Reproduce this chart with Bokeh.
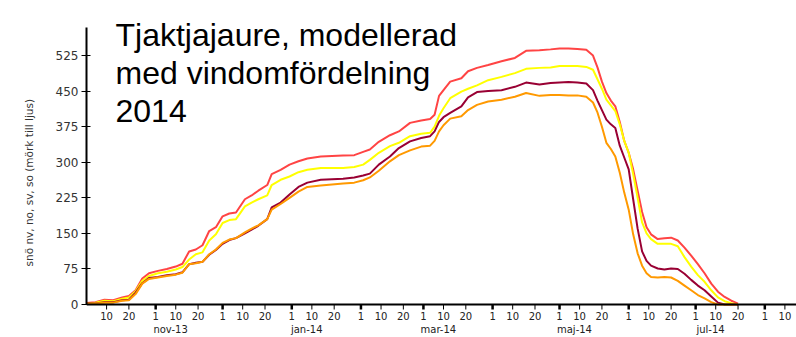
import pandas as pd
from bokeh.plotting import figure
from bokeh.models import Range1d, LinearAxis, FixedTicker, Span, Title
from bokeh.core.properties import value
from bokeh.embed import file_html
from bokeh.resources import INLINE

# Snow depth (mm) simulated for four wind-exposure aspects, season 2013/14.
# x is days since 1 Oct 2013.
season_start = pd.Timestamp("2013-10-01")

day = [0, 4, 8, 12, 16, 19, 22, 25, 28, 32, 36, 40, 43, 46, 49, 52, 55, 58,
       61, 64, 67, 71, 74, 77, 81, 83, 87, 91, 95, 99, 105, 110, 115, 120,
       124, 127, 131, 136, 140, 145, 150, 154, 156, 158, 160, 163, 168, 171,
       175, 180, 186, 192, 197, 203, 208, 212, 216, 220, 224, 227, 229, 231,
       233, 235, 237, 239, 241, 243, 245, 247, 249, 251, 253, 256, 259, 262,
       265, 268, 271, 274, 277, 280, 283, 286, 289, 292]

sno_no = [3, 5, 10, 9, 15, 18, 30, 55, 66, 71, 75, 80, 86, 112, 116, 125,
          155, 163, 186, 192, 194, 222, 230, 240, 252, 275, 284, 295, 302,
          308, 312, 313, 314, 315, 322, 327, 343, 357, 365, 383, 388, 391,
          400, 440, 452, 470, 477, 492, 499, 505, 513, 520, 535, 536, 538,
          540, 540, 539, 537, 525, 500, 470, 446, 430, 418, 385, 345, 320,
          285, 240, 195, 163, 148, 138, 140, 141, 135, 120, 103, 85, 66, 44,
          27, 16, 8, 2]

sno_so = [2, 4, 8, 7, 12, 15, 28, 50, 60, 66, 69, 74, 79, 95, 106, 110, 135,
          148, 172, 178, 180, 207, 215, 222, 230, 252, 263, 270, 279, 284,
          288, 288, 288, 290, 295, 305, 320, 334, 341, 355, 360, 362, 375,
          398, 414, 435, 449, 455, 462, 473, 480, 488, 497, 499, 500, 503,
          503, 503, 501, 495, 475, 455, 432, 420, 408, 380, 345, 320, 275,
          225, 173, 150, 138, 128, 128, 128, 123, 100, 80, 62, 48, 30, 15, 7,
          3, 0]

sno_nv = [3, 2, 5, 5, 9, 10, 25, 45, 56, 58, 62, 64, 68, 85, 88, 90, 105,
          115, 128, 136, 140, 150, 158, 166, 180, 205, 215, 232, 248, 257,
          263, 264, 265, 268, 272, 276, 295, 312, 330, 344, 351, 355, 365,
          385, 395, 404, 418, 437, 448, 450, 452, 459, 468, 464, 467, 468,
          469, 468, 466, 452, 430, 410, 390, 380, 372, 335, 310, 285, 222,
          160, 112, 92, 82, 76, 74, 76, 75, 65, 52, 40, 30, 17, 4, 0, 0, 0]

sno_sv = [2, 2, 4, 4, 8, 9, 22, 44, 54, 57, 60, 63, 67, 85, 87, 90, 106, 116,
          130, 137, 140, 152, 160, 167, 180, 200, 212, 225, 238, 248, 251,
          253, 255, 257, 262, 268, 282, 302, 315, 325, 333, 335, 345, 365,
          378, 392, 397, 410, 421, 428, 432, 438, 446, 440, 442, 442, 441,
          441, 438, 426, 405, 375, 341, 328, 312, 278, 236, 200, 148, 108, 82,
          66, 58, 57, 58, 57, 50, 40, 30, 20, 13, 5, 0, 0, 0, 0]

y_ticks = [0, 75, 150, 225, 300, 375, 450, 525]
month_names = ["nov-13", "jan-14", "mar-14", "maj-14", "jul-14"]
month_name_starts = ["2013-11-01", "2014-01-01", "2014-03-01", "2014-05-01",
                     "2014-07-01"]
title_lines = ["Tjaktjajaure, modellerad", "med vindomfördelning", "2014"]
y_title = "snö nv, no, sv, so  (mörk till ljus)"

# --- tick positions: 1st, 10th and 20th of every month --------------------
def days_since_start(ts):
    return int((pd.Timestamp(ts) - season_start).days)

tick_days, tick_labels, month_days, mid_days = [], [], [], []
for m in pd.date_range("2013-10-01", "2014-08-01", freq="MS"):
    for d in (1, 10, 20):
        t = days_since_start(m + pd.Timedelta(days=d - 1))
        if t > 0:
            tick_days.append(t)
            tick_labels.append(str(d))
            (month_days if d == 1 else mid_days).append(t)

# --- scale: units per pixel on y, frame dips 5 px below zero for ticks -----
units_per_px = 525 / 250.6
zero_px = 306                  # canvas row of the zero line
y_end = zero_px * units_per_px
y_start = -5 * units_per_px
x_end = 318.2

p = figure(width=796, height=337, output_backend="svg", toolbar_location=None,
           x_range=Range1d(0, x_end), y_range=Range1d(y_start, y_end),
           x_axis_type=None, min_border_left=86, min_border_right=0,
           min_border_top=0, min_border_bottom=26)
p.outline_line_color = None
p.ygrid.visible = False
p.background_fill_color = "white"

# --- series ---------------------------------------------------------------
series = [(sno_no, "#FF4444"), (sno_so, "#FFFF00"),
          (sno_nv, "#990033"), (sno_sv, "#FF9900")]
for vals, col in series:
    p.line(day, vals, line_color=col, line_width=2)

# --- x axis line and tick marks -------------------------------------------
p.add_layout(Span(location=0, dimension="width", line_color="black",
                  line_width=2))
tick_len = 6 * units_per_px
p.segment(x0=mid_days, y0=[0] * len(mid_days), x1=mid_days,
          y1=[-tick_len] * len(mid_days), line_color="black", line_width=1)
p.segment(x0=month_days, y0=[0] * len(month_days), x1=month_days,
          y1=[-tick_len] * len(month_days), line_color="black", line_width=2.5)

# --- y axis ---------------------------------------------------------------
ya = p.yaxis[0]
ya.ticker = FixedTicker(ticks=y_ticks)
ya.bounds = (0, 584)
ya.axis_line_width = 2
ya.major_tick_in = 4
ya.major_tick_out = 5
ya.minor_tick_line_color = None
ya.major_label_text_font = "DejaVu Sans"
ya.major_label_text_font_size = "12px"
ya.major_label_text_color = "#333333"
ya.major_label_standoff = 3

# rotated axis title, sitting a little above the frame's vertical centre
p.add_layout(Title(text=y_title, align="left", offset=43, standoff=35,
                   text_font="DejaVu Sans", text_font_size="10.5px",
                   text_font_style="normal", text_color="#333333"), "left")

# --- x axis labels: day numbers -------------------------------------------
xa = LinearAxis(ticker=FixedTicker(ticks=tick_days),
                major_label_overrides=dict(zip(tick_days, tick_labels)))
xa.axis_line_color = None
xa.major_tick_line_color = None
xa.major_tick_in = 0
xa.major_tick_out = 0
xa.major_label_standoff = 2
xa.major_label_text_font = "DejaVu Sans"
xa.major_label_text_font_size = "10px"
xa.major_label_text_color = "#222222"
p.add_layout(xa, "below")

# --- x axis labels: month names, set just right of the month start ---------
label_shift = 6.7
name_pos = [days_since_start(s) + label_shift for s in month_name_starts]
ma = LinearAxis(ticker=FixedTicker(ticks=name_pos),
                major_label_overrides=dict(zip(name_pos, month_names)))
ma.axis_line_color = None
ma.major_tick_line_color = None
ma.major_tick_in = 0
ma.major_tick_out = 0
ma.major_label_standoff = 1
ma.major_label_text_font = "DejaVu Sans"
ma.major_label_text_font_size = "10px"
ma.major_label_text_color = "#222222"
p.add_layout(ma, "below")

# --- title text -----------------------------------------------------------
title_base_px = [35, 73, 111.5]
p.text(x=[13] * 3, y=[(zero_px - b) * units_per_px for b in title_base_px],
       text=title_lines, text_font=value("Liberation Sans"),
       text_font_size="32px", text_color="black",
       text_baseline="alphabetic", text_align="left")

open("out.html", "w").write(file_html(p, INLINE))
